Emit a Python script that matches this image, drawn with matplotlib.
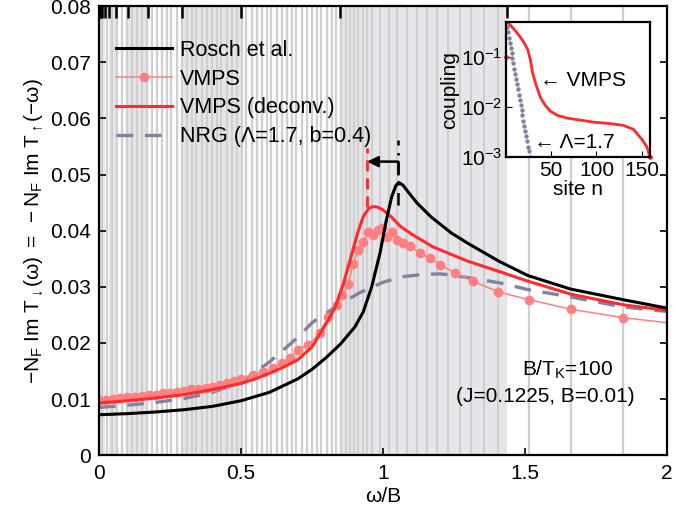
import numpy as np
import matplotlib
matplotlib.use('Agg')
import matplotlib.pyplot as plt
from matplotlib.lines import Line2D
from matplotlib.ticker import NullLocator

plt.rcParams['font.family'] = ['Liberation Sans', 'DejaVu Sans']
plt.rcParams['mathtext.fontset'] = 'custom'
plt.rcParams['mathtext.rm'] = 'Liberation Sans'
plt.rcParams['mathtext.it'] = 'Liberation Sans'
plt.rcParams['mathtext.sf'] = 'Liberation Sans'

# ---- main panel data ----
rosch_w = [0, 0.1, 0.2, 0.3, 0.4, 0.5, 0.6, 0.7, 0.75, 0.8, 0.85, 0.9, 0.93, 0.96, 0.99,
           1.01, 1.03, 1.045, 1.055, 1.07, 1.09, 1.12, 1.17, 1.24, 1.3, 1.41, 1.51, 1.66, 1.845, 2.0]
rosch_a = [0.0072, 0.0074, 0.0077, 0.0081, 0.0087, 0.0097, 0.0112, 0.0136, 0.0153, 0.0174,
           0.0198, 0.0228, 0.0255, 0.0300, 0.0362, 0.0415, 0.0460, 0.0480, 0.0486, 0.0481,
           0.0468, 0.0449, 0.0424, 0.0396, 0.0377, 0.0345, 0.0320, 0.0296, 0.0277, 0.0262]

deconv_w = [0, 0.1, 0.2, 0.3, 0.4, 0.5, 0.55, 0.6, 0.65, 0.7, 0.75, 0.8, 0.83, 0.86, 0.884,
            0.91, 0.93, 0.95, 0.965, 0.98, 1.0, 1.03, 1.06, 1.1, 1.176, 1.296, 1.41, 1.51,
            1.66, 1.845, 2.0]
deconv_a = [0.0093, 0.0097, 0.0102, 0.0108, 0.0117, 0.0128, 0.0136, 0.0146, 0.0157, 0.0170,
            0.0193, 0.0235, 0.0262, 0.0305, 0.0348, 0.0395, 0.0425, 0.0440, 0.0443, 0.0442,
            0.0437, 0.0424, 0.0408, 0.0394, 0.0371, 0.0346, 0.0327, 0.0310, 0.0287, 0.0268,
            0.0258]

nrg_w = [0, 0.1, 0.2, 0.3, 0.4, 0.5, 0.6, 0.7, 0.75, 0.8, 0.85, 0.92, 1.0, 1.07, 1.14, 1.2,
         1.24, 1.34, 1.41, 1.51, 1.66, 1.845, 2.0]
nrg_a = [0.0085, 0.0089, 0.0094, 0.0101, 0.0112, 0.0130, 0.0166, 0.0210, 0.0236, 0.0253,
         0.0270, 0.0290, 0.0308, 0.0318, 0.0322, 0.0323, 0.0321, 0.0313, 0.0307, 0.0295,
         0.0282, 0.0264, 0.0256]

vmps_w = [0, 0.025, 0.05, 0.075, 0.1, 0.125, 0.15, 0.175, 0.2, 0.225, 0.25, 0.275, 0.3,
          0.325, 0.35, 0.375, 0.4, 0.425, 0.45, 0.475, 0.5, 0.542, 0.577, 0.613, 0.644,
          0.673, 0.70, 0.736, 0.778, 0.806, 0.838, 0.857, 0.877, 0.894, 0.912, 0.93, 0.947,
          0.965, 0.982, 0.996, 1.014, 1.032, 1.049, 1.07, 1.095, 1.13, 1.165, 1.2, 1.254,
          1.317, 1.405, 1.514, 1.662, 1.845, 2.0]
vmps_a = [0.0098, 0.0099, 0.0100, 0.0102, 0.0103, 0.0104, 0.0105, 0.0107, 0.0108, 0.0110,
          0.0111, 0.0113, 0.0115, 0.0117, 0.0118, 0.0120, 0.0122, 0.0125, 0.0128, 0.0132,
          0.0136, 0.0143, 0.0148, 0.0155, 0.0164, 0.0173, 0.0188, 0.0196, 0.0218, 0.0247,
          0.0268, 0.0285, 0.0305, 0.0340, 0.0366, 0.0380, 0.0397, 0.0393, 0.0402, 0.0405,
          0.0388, 0.0397, 0.0384, 0.0378, 0.0372, 0.0360, 0.0351, 0.0339, 0.0325, 0.0310,
          0.0291, 0.0277, 0.0260, 0.0245, 0.0236]

# discretisation grid shown in the background
grid_w = [0.009, 0.027, 0.044, 0.062, 0.079, 0.097, 0.115, 0.132, 0.150, 0.167, 0.185, 0.203,
          0.220, 0.238, 0.255, 0.273, 0.291, 0.308, 0.326, 0.343, 0.361, 0.379, 0.396, 0.414,
          0.431, 0.449, 0.467, 0.484, 0.502, 0.519, 0.537, 0.555, 0.572, 0.590, 0.607, 0.625,
          0.643, 0.660, 0.678, 0.695, 0.713, 0.731, 0.748, 0.766, 0.783, 0.801, 0.819, 0.836,
          0.853, 0.868, 0.883, 0.898, 0.913, 0.928, 0.943, 0.96, 0.99, 1.02, 1.05, 1.085,
          1.12, 1.155, 1.19, 1.23, 1.27, 1.31, 1.355, 1.405, 1.514, 1.662, 1.845]
shade_bins = [(0.847, 1.437), (0.293, 0.498), (0.101, 0.172), (0.035, 0.060),
              (0.012, 0.021), (0.004, 0.007)]
nrg_ticks = [1.437, 0.847, 0.498, 0.293, 0.172, 0.101, 0.060, 0.035, 0.021, 0.012,
             0.007, 0.004, 0.0024, 0.0014]

# ---- inset data ----
inset_vmps_n = [0, 2, 9, 16, 20, 24, 27, 29, 33, 38, 43, 49, 57, 68, 82, 97, 115, 130,
                141, 150, 155, 157, 159]
inset_vmps_t = [0.50, 0.49, 0.355, 0.245, 0.19, 0.139, 0.085, 0.05, 0.028, 0.0155, 0.011,
                0.0083, 0.0068, 0.0060, 0.0055, 0.0050, 0.0047, 0.0043, 0.0036, 0.0023,
                0.0017, 0.0014, 0.0010]
inset_nrg_n = list(range(27))
inset_nrg_t = [0.501, 0.394, 0.311, 0.245, 0.193, 0.152, 0.120, 0.0944, 0.0744, 0.0586,
               0.0462, 0.0364, 0.0287, 0.0226, 0.0178, 0.0140, 0.0110, 0.0087, 0.0069,
               0.0054, 0.0042, 0.0033, 0.0026, 0.0021, 0.0016, 0.0013, 0.0010]

black = 'k'
pink = '#ff8080'
red = '#ff2a2a'
slate = '#8282a0'
fs = 15

fig = plt.figure(figsize=(6.74, 5.12), dpi=100)
ax = fig.add_axes([0.147, 0.111, 0.8427, 0.877])

for a, b in shade_bins:
    ax.axvspan(a, b, color='#e6e6ea', lw=0, zorder=0)
ax.vlines(grid_w, 0, 0.08, color='#cfcfcf', lw=1.6, zorder=0.5)
ax.vlines(nrg_ticks, 0.0778, 0.08, color='k', lw=1.8, zorder=6, clip_on=False)

ax.plot(nrg_w, nrg_a, color=slate, lw=2.4, dashes=(5, 3.5), zorder=2)
ax.plot(vmps_w, vmps_a, color=pink, lw=1.1, marker='o', ms=6,
        markevery=list(range(len(vmps_w) - 1)), zorder=3)
ax.plot(deconv_w, deconv_a, color=red, lw=2.2, zorder=4)
ax.plot(rosch_w, rosch_a, color=black, lw=2.2, zorder=5)

# peak shift marker
ax.plot([0.944, 0.944], [0.0443, 0.0548], color=red, lw=2, dashes=(4, 2.5), zorder=4)
ax.plot([1.053, 1.053], [0.0445, 0.0562], color='k', lw=1.8, dashes=(5, 3, 1, 3), zorder=4)
ax.plot([1.053, 1.053], [0.0523, 0.0505], color='k', lw=1.8, zorder=4)
ax.annotate('', xy=(0.944, 0.0523), xytext=(1.053, 0.0523),
            arrowprops=dict(arrowstyle='-|>', color='k', lw=1.8, mutation_scale=16,
                            shrinkA=0, shrinkB=0), zorder=6)

ax.text(1.65, 0.0152, 'B/T$_\\mathregular{K}$=100', ha='center', va='center', fontsize=fs)
ax.text(1.57, 0.0105, '(J=0.1225, B=0.01)', ha='center', va='center', fontsize=fs)

ax.set_xlim(0, 2)
ax.set_ylim(0, 0.08)
ax.set_xticks([0, 0.5, 1, 1.5, 2])
ax.set_xticklabels(['0', '0.5', '1', '1.5', '2'])
ax.set_yticks([0, 0.01, 0.02, 0.03, 0.04, 0.05, 0.06, 0.07, 0.08])
ax.set_yticklabels(['0', '0.01', '0.02', '0.03', '0.04', '0.05', '0.06', '0.07', '0.08'])
ax.tick_params(direction='in', length=5, width=1.2, labelsize=fs, right=True, top=False,
               pad=6)
for s in ax.spines.values():
    s.set_linewidth(1.6)
    s.set_zorder(7)
ax.set_xlabel('ω/B', fontsize=fs, labelpad=3)
ax.set_ylabel(r'$\mathregular{-N_F\ Im\ T_{\downarrow}(\omega)\ =\ -N_F\ Im\ T_{\uparrow}(-\omega)}$',
              fontsize=fs, labelpad=3)

handles = [Line2D([], [], color=black, lw=2.2),
           Line2D([], [], color=pink, lw=1.1, marker='o', ms=6),
           Line2D([], [], color=red, lw=2.2),
           Line2D([], [], color=slate, lw=2.4, dashes=(5, 3.5))]
labels = ['Rosch et al.', 'VMPS', 'VMPS (deconv.)', 'NRG (Λ=1.7, b=0.4)']
ax.legend(handles, labels, loc='upper left', bbox_to_anchor=(0.03, 0.925), frameon=False,
          fontsize=15.5, handlelength=2.6, handletextpad=0.37, labelspacing=0.36,
          borderpad=0, borderaxespad=0)

# ---- inset ----
ax2 = fig.add_axes([0.751, 0.693, 0.213, 0.264])
ax2.set_facecolor('white')
ax2.plot(inset_nrg_n, inset_nrg_t, 'o', color=slate, ms=3.2, mew=0, clip_on=True)
ax2.plot(inset_vmps_n, inset_vmps_t, color=red, lw=2)
ax2.plot([inset_vmps_n[0], inset_vmps_n[-1]], [0.1, inset_vmps_t[-1]], 'o', color=red,
         ms=3.5, mew=0, clip_on=False)
ax2.set_yscale('log')
ax2.set_ylim(1e-3, 0.5)
ax2.set_xlim(0, 159)
ax2.set_xticks([50, 100, 150])
ax2.set_yticks([1e-1, 1e-2, 1e-3])
ax2.yaxis.set_minor_locator(NullLocator())
ax2.tick_params(direction='in', length=4, labelsize=fs, pad=3)
for s in ax2.spines.values():
    s.set_linewidth(1.6)
ax2.set_xlabel('site n', fontsize=fs, labelpad=0)
ax2.set_ylabel('coupling', fontsize=fs, labelpad=1)
ax2.text(38, 0.034, '← VMPS', ha='left', va='center', fontsize=fs)
ax2.text(31, 0.002, '← Λ=1.7', ha='left', va='center', fontsize=fs)

plt.savefig('out.png', dpi=100)
